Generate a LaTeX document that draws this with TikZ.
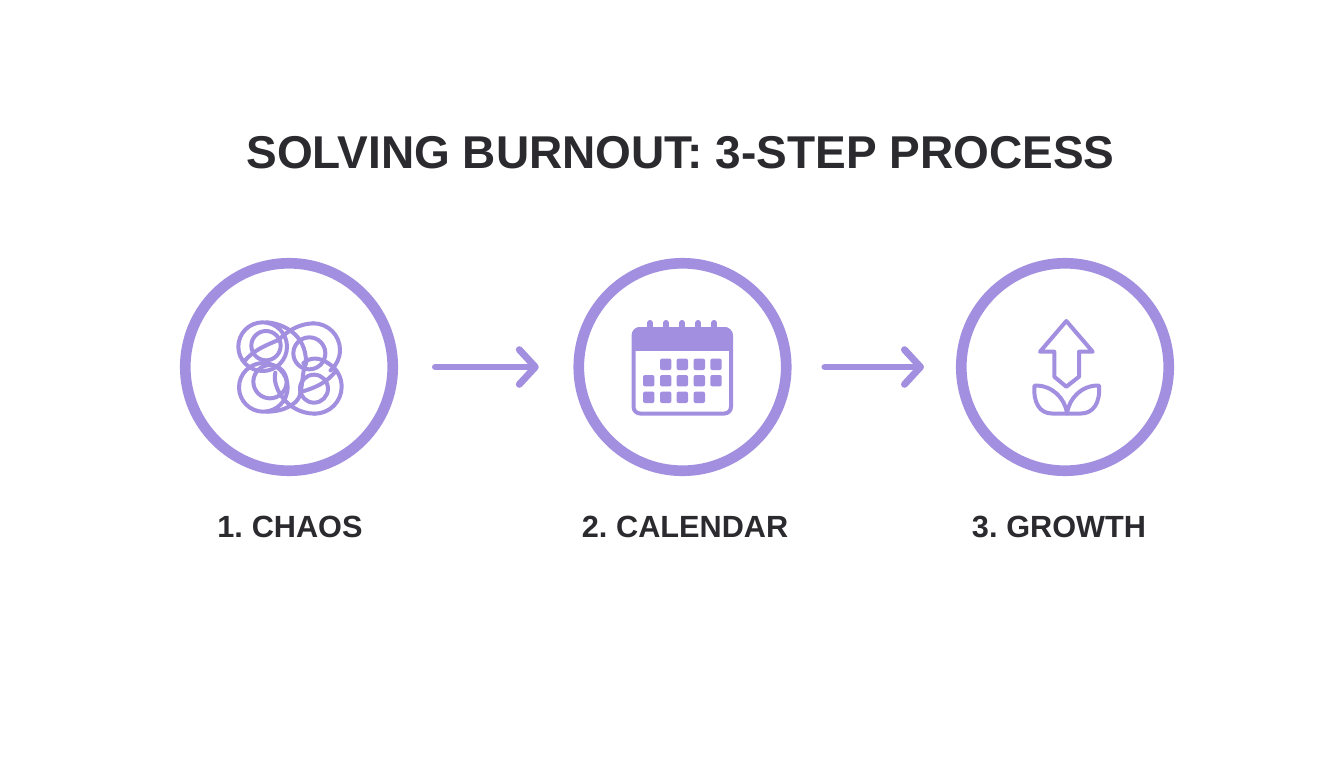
\documentclass[tikz,border=0pt]{standalone}
\usepackage{fontspec}
\setmainfont{Liberation Sans}
\newfontfamily\labelfont[WordSpace=0.7]{Liberation Sans}
\usetikzlibrary{arrows.meta}
\definecolor{lav}{HTML}{A28FE0}
\definecolor{ink}{HTML}{2B2A2E}
\tikzset{
  ring/.style={circle,draw=lav,line width=8pt,minimum size=155.6pt,inner sep=0pt},
  flow/.style={draw=lav,line width=5.2pt,line cap=round,-{Straight Barb[round,length=12pt,width=26pt]}},
  iconline/.style={draw=lav,line width=3pt,line join=round,line cap=round},
  cell/.style={fill=lav,rounded corners=1.5pt},
  title/.style={text=ink,font=\bfseries\fontsize{34.5pt}{40pt}\selectfont,inner sep=0pt},
  steplabel/.style={text=ink,font=\labelfont\bfseries\fontsize{23pt}{27pt}\selectfont,inner sep=0pt}
}
\begin{document}
\begin{tikzpicture}[x=0.75pt,y=-0.75pt]
\useasboundingbox (0,0) rectangle (1344,768);
\fill[white] (0,0) rectangle (1344,768);
\node[title] (head) at (680.5,153) {SOLVING BURNOUT: 3-STEP PROCESS};
\node[ring] (c1) at (289,367) {};
\node[ring] (c2) at (682.5,367) {};
\node[ring] (c3) at (1065,367) {};
\node[steplabel] (l1) at (290,527) {1. CHAOS};
\node[steplabel] (l2) at (685,527) {2. CALENDAR};
\node[steplabel] (l3) at (1059,527) {3. GROWTH};
\path[flow,shorten <=28pt,shorten >=26pt] (c1) -- (c2);
\path[flow,shorten <=25pt,shorten >=24pt] (c2) -- (c3);
% chaos icon (coordinates of a 3x crop)
\begin{scope}[shift={(170,250)},x=0.25pt,y=-0.25pt]
\foreach \cx/\cy/\r in {278/290/73,288/287/44,418/310/48,280/412/73,300/395/50,432/416/42}
  \draw[iconline] (\cx,\cy) circle[radius=\r];
\draw[iconline] (430,220) arc[start angle=-90,end angle=50,radius=80];
\draw[iconline] (222,335) .. controls (250,300) and (290,285) .. (325,270) .. controls (335,262) and (370,222) .. (430,220);
\draw[iconline] (290,217) .. controls (335,220) and (410,250) .. (408,340) .. controls (395,370) and (400,400) .. (388,440) .. controls (380,460) and (345,485) .. (290,485);
\draw[iconline] (316,368) .. controls (305,410) and (350,490) .. (434,491);
\draw[iconline] (434,491) arc[start angle=90,end angle=-60,radius=81];
\draw[iconline] (400,340) .. controls (420,320) and (450,322) .. (475,340);
\draw[iconline] (395,425) .. controls (430,415) and (470,400) .. (498,362);
\end{scope}
% calendar icon
\foreach \x in {650,666,682,698.3,714.3}
  \draw[lav,line width=4.6pt,line cap=round] (\x,323) -- (\x,332);
\draw[lav,line width=3pt,rounded corners=5pt] (633.5,329) rectangle (731,413.5);
\fill[lav,rounded corners=6pt] (632,327) rectangle (732.5,345);
\fill[lav] (632,337) rectangle (732.5,351);
\foreach \x in {665.7,682.3,699.3,716} \fill[cell] (\x-5.7,358.6) rectangle (\x+5.7,370);
\foreach \x in {648.7,665.7,682.3,699.3,716} \fill[cell] (\x-5.7,375) rectangle (\x+5.7,386.4);
\foreach \x in {648.7,665.7,682.3,699.3} \fill[cell] (\x-5.7,391.6) rectangle (\x+5.7,403);
% growth icon
\draw[iconline] (1066.3,321) -- (1092.7,351.7) -- (1079,351.7) -- (1079,376.7) -- (1066.3,386.7) -- (1054.3,376.7) -- (1054.3,351.7) -- (1040,351.7) -- cycle;
\draw[iconline] (1067,413.5) .. controls (1065,398) and (1052,385) .. (1034.5,385.5) .. controls (1033,403) and (1040,413.5) .. (1052,413.5) -- cycle;
\draw[iconline] (1067,413.5) .. controls (1069,398) and (1082,385) .. (1099,385.5) .. controls (1100.5,403) and (1093,413.5) .. (1081,413.5) -- cycle;
\end{tikzpicture}
\end{document}
